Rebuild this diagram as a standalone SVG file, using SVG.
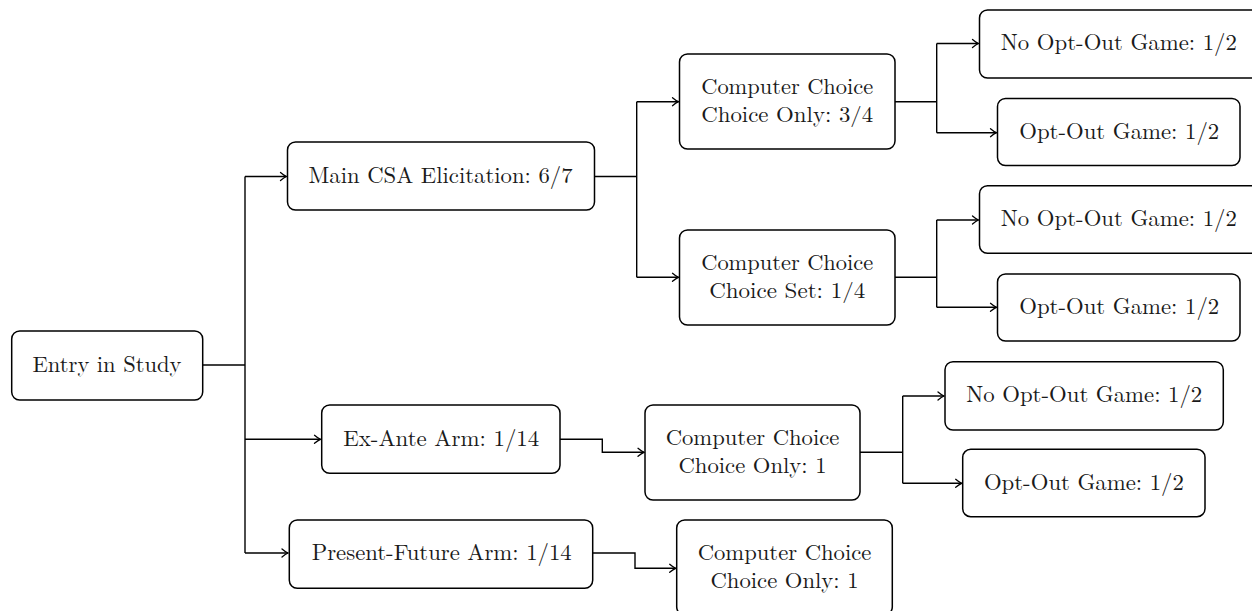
<svg xmlns="http://www.w3.org/2000/svg" width="1252" height="611" viewBox="0 0 1252 611">
<defs>
<marker id="arr" markerUnits="userSpaceOnUse" markerWidth="14" markerHeight="12" viewBox="-8 -6 10 12" refX="0" refY="0" orient="auto">
<path d="M-6,-4 Q-2.5,-1 0,0 Q-2.5,1 -6,4" fill="none" stroke="#000" stroke-width="1.3" stroke-linecap="round"/>
</marker>
</defs>
<style>
.box{fill:#fff;stroke:#000;stroke-width:1.5}
.t{font-family:"Latin Modern Roman","Liberation Serif",serif;font-size:22.5px;fill:#1a1a1a;text-anchor:middle}
.t2{font-size:21.5px}
.c{fill:none;stroke:#000;stroke-width:1.4}
.a{fill:none;stroke:#000;stroke-width:1.4;marker-end:url(#arr)}
</style>
<rect width="1252" height="611" fill="#fff"/>
<g id="connectors">
<path class="c" d="M203,365 H245"/>
<path class="c" d="M245,176.5 V553"/>
<path class="a" d="M245,176.5 H286.5"/>
<path class="a" d="M245,439.3 H320.5"/>
<path class="a" d="M245,553 H288"/>
<path class="c" d="M594.5,176.5 H636.7"/>
<path class="c" d="M636.7,101.7 V277.3"/>
<path class="a" d="M636.7,101.7 H678.5"/>
<path class="a" d="M636.7,277.3 H678.5"/>
<path class="c" d="M895,101.7 H936.7"/>
<path class="c" d="M936.7,43.5 V132.7"/>
<path class="a" d="M936.7,43.5 H978.5"/>
<path class="a" d="M936.7,132.7 H996.5"/>
<path class="c" d="M895,277.3 H936.7"/>
<path class="c" d="M936.7,220 V307.3"/>
<path class="a" d="M936.7,220 H978.5"/>
<path class="a" d="M936.7,307.3 H996.5"/>
<path class="a" d="M560,439.3 H602.3 V452.3 H644"/>
<path class="c" d="M860,452.3 H902.7"/>
<path class="c" d="M902.7,396 V483.3"/>
<path class="a" d="M902.7,396 H944"/>
<path class="a" d="M902.7,483.3 H961.7"/>
<path class="a" d="M592.7,553 H635 V568.3 H675.7"/>
</g>
<g id="entry">
<rect class="box" x="11.7" y="331" width="191" height="69" rx="8"/>
<text class="t" x="107" y="371.7" textLength="149" lengthAdjust="spacingAndGlyphs">Entry in Study</text>
</g>
<g id="main-csa">
<rect class="box" x="287.5" y="142" width="307" height="68" rx="8"/>
<text class="t" x="440.5" y="182.7" textLength="264" lengthAdjust="spacingAndGlyphs">Main CSA Elicitation: 6/7</text>
</g>
<g id="cc-only-34">
<rect class="box" x="679.5" y="54" width="215.5" height="95" rx="8"/>
<text class="t t2"><tspan x="787.2" y="94" textLength="172" lengthAdjust="spacingAndGlyphs">Computer Choice</tspan><tspan x="787.2" y="121.7" textLength="172" lengthAdjust="spacingAndGlyphs">Choice Only: 3/4</tspan></text>
</g>
<g id="noopt-1">
<rect class="box" x="979.5" y="10" width="280" height="68" rx="8"/>
<text class="t" x="1118.8" y="50" textLength="236" lengthAdjust="spacingAndGlyphs">No Opt-Out Game: 1/2</text>
</g>
<g id="opt-1">
<rect class="box" x="997.5" y="98.5" width="242.5" height="67" rx="8"/>
<text class="t" x="1119.2" y="138.8" textLength="200" lengthAdjust="spacingAndGlyphs">Opt-Out Game: 1/2</text>
</g>
<g id="cc-set-14">
<rect class="box" x="679.5" y="230" width="215.5" height="95" rx="8"/>
<text class="t t2"><tspan x="787.2" y="270" textLength="172" lengthAdjust="spacingAndGlyphs">Computer Choice</tspan><tspan x="787.2" y="297.6" textLength="156" lengthAdjust="spacingAndGlyphs">Choice Set: 1/4</tspan></text>
</g>
<g id="noopt-2">
<rect class="box" x="979.5" y="185.7" width="280" height="67.6" rx="8"/>
<text class="t" x="1118.8" y="226" textLength="236" lengthAdjust="spacingAndGlyphs">No Opt-Out Game: 1/2</text>
</g>
<g id="opt-2">
<rect class="box" x="997.5" y="274" width="242.5" height="67" rx="8"/>
<text class="t" x="1119.2" y="314" textLength="200" lengthAdjust="spacingAndGlyphs">Opt-Out Game: 1/2</text>
</g>
<g id="ex-ante">
<rect class="box" x="321.7" y="405" width="238.3" height="68.3" rx="8"/>
<text class="t" x="441.2" y="445.6" textLength="196" lengthAdjust="spacingAndGlyphs">Ex-Ante Arm: 1/14</text>
</g>
<g id="cc-only-1a">
<rect class="box" x="645" y="405" width="215" height="95" rx="8"/>
<text class="t t2"><tspan x="752.5" y="445" textLength="173.6" lengthAdjust="spacingAndGlyphs">Computer Choice</tspan><tspan x="752.5" y="472.6" textLength="148" lengthAdjust="spacingAndGlyphs">Choice Only: 1</tspan></text>
</g>
<g id="noopt-3">
<rect class="box" x="945" y="361.7" width="278.3" height="68.3" rx="8"/>
<text class="t" x="1084.2" y="402.3" textLength="236" lengthAdjust="spacingAndGlyphs">No Opt-Out Game: 1/2</text>
</g>
<g id="opt-3">
<rect class="box" x="962.7" y="449.3" width="242.3" height="67.4" rx="8"/>
<text class="t" x="1083.9" y="489.6" textLength="200" lengthAdjust="spacingAndGlyphs">Opt-Out Game: 1/2</text>
</g>
<g id="present-future">
<rect class="box" x="289.3" y="520" width="303.4" height="68.3" rx="8"/>
<text class="t" x="441.7" y="560" textLength="260" lengthAdjust="spacingAndGlyphs">Present-Future Arm: 1/14</text>
</g>
<g id="cc-only-1b">
<rect class="box" x="676.7" y="520" width="215.6" height="95" rx="8"/>
<text class="t t2"><tspan x="784.5" y="560.4" textLength="173.6" lengthAdjust="spacingAndGlyphs">Computer Choice</tspan><tspan x="784.5" y="588" textLength="148" lengthAdjust="spacingAndGlyphs">Choice Only: 1</tspan></text>
</g>
</svg>
